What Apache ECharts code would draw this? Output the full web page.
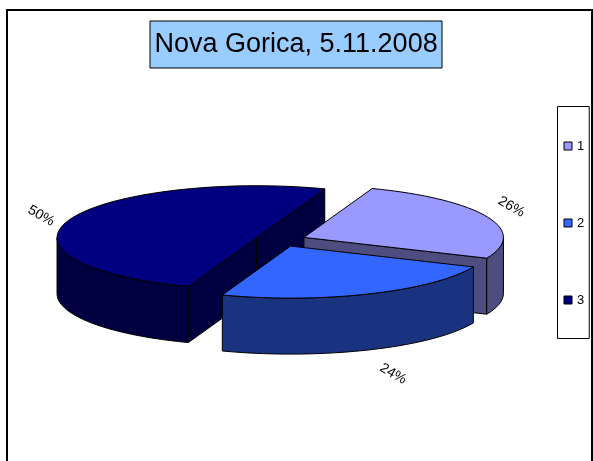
<!DOCTYPE html>
<html><head><meta charset="utf-8">
<style>html,body{margin:0;padding:0;background:#fff;overflow:hidden}#c{width:593px;height:461px}</style>
<script src="https://cdn.jsdelivr.net/npm/echarts@6/dist/echarts.min.js"></script>
</head><body><div id="c"></div>
<script>
// Data
const titleText = 'Nova Gorica, 5.11.2008';
const categories = ['1', '2', '3'];
const values = [26, 24, 50];
const topColors = ['#9999ff', '#3366ff', '#000080'];
const sideColors = ['#4d4d80', '#1a3380', '#000040'];

// Layout of the tilted pie
const CX = 280.5, CY = 240, RX = 199.5, RY = 52, DEPTH = 56, EXPLODE = 25.5, FIRST_ANGLE = 20;
const PAINT_ORDER = [1, 2, 0];
const LABEL_SHIFT = [[24, -10], [24, 24], [-28, -4]];
const LABEL_ROTATE = -30 * Math.PI / 180;

const total = values.reduce((a, b) => a + b, 0);
const rad = d => d * Math.PI / 180;

function renderSlice(params, api) {
  const i = params.seriesIndex;
  const value = api.value(0);
  const before = values.slice(0, i).reduce((a, b) => a + b, 0);
  const a0 = FIRST_ANGLE + before / total * 360;
  const a1 = a0 + value / total * 360;
  const mid = (a0 + a1) / 2;
  const ax = CX + EXPLODE * Math.sin(rad(mid));
  const ay = CY - EXPLODE * Math.cos(rad(mid)) * RY / RX;
  const pt = (deg, dz) => [ax + RX * Math.sin(rad(deg)), ay - RY * Math.cos(rad(deg)) + (dz || 0)];
  const arc = (from, to, dz) => {
    const n = Math.max(2, Math.ceil(Math.abs(to - from) / 3)), out = [];
    for (let k = 0; k <= n; k++) out.push(pt(from + (to - from) * k / n, dz));
    return out;
  };
  const sideStyle = { fill: sideColors[i], stroke: '#000', lineWidth: 1, lineJoin: 'round' };
  const children = [];
  const wall = deg => children.push({
    type: 'polygon',
    shape: { points: [[ax, ay], pt(deg), pt(deg, DEPTH), [ax, ay + DEPTH]] },
    style: sideStyle
  });
  // radial cut faces that look toward the viewer
  if (Math.cos(rad(a1 + 90)) < 0) wall(a1);
  if (Math.cos(rad(a0 - 90)) < 0) wall(a0);
  // outer rim: the part on the near side of the ellipse
  const f = Math.max(a0, 90), t = Math.min(a1, 270);
  if (t > f) {
    children.push({
      type: 'polygon',
      shape: { points: arc(f, t, 0).concat(arc(t, f, DEPTH)) },
      style: sideStyle
    });
  }
  // top face
  children.push({
    type: 'polygon',
    shape: { points: [[ax, ay]].concat(arc(a0, a1, 0)) },
    style: { fill: topColors[i], stroke: '#000', lineWidth: 1, lineJoin: 'round' }
  });
  // percent label
  const p = pt(mid);
  children.push({
    type: 'text',
    x: p[0] + LABEL_SHIFT[i][0],
    y: p[1] + LABEL_SHIFT[i][1] + (i === 1 ? DEPTH : 0),
    rotation: LABEL_ROTATE,
    style: {
      text: Math.round(value / total * 100) + '%',
      fill: '#000',
      font: '14px "Liberation Sans", Arial, sans-serif',
      align: 'center',
      verticalAlign: 'middle'
    }
  });
  return { type: 'group', children };
}

const chart = echarts.init(document.getElementById('c'), null, { renderer: 'canvas' });
chart.setOption({
  animation: false,
  backgroundColor: '#fff',
  title: {
    text: titleText,
    left: 149.5,
    top: 20.5,
    padding: [11, 5, 10, 5],
    backgroundColor: '#99ccff',
    borderColor: '#000',
    borderWidth: 1,
    textStyle: { fontFamily: '"Liberation Sans", Arial, sans-serif', fontSize: 27, fontWeight: 'normal', color: '#000' }
  },
  legend: {
    orient: 'vertical',
    left: 557.5,
    top: 106.5,
    padding: [33, 5, 32, 6],
    itemGap: 64,
    itemWidth: 8,
    itemHeight: 8,
    icon: 'rect',
    borderColor: '#000',
    borderWidth: 1,
    selectedMode: false,
    data: categories,
    itemStyle: { borderColor: '#000', borderWidth: 1 },
    textStyle: { fontFamily: '"Liberation Sans", Arial, sans-serif', fontSize: 13, color: '#000' }
  },
  graphic: [{
    type: 'rect',
    silent: true,
    z: -1,
    shape: { x: 7, y: 10, width: 585, height: 500 },
    style: { fill: 'none', stroke: '#000', lineWidth: 2 }
  }],
  series: categories.map((name, i) => ({
    type: 'custom',
    name,
    coordinateSystem: 'none',
    z: 2 + PAINT_ORDER[i],
    silent: true,
    itemStyle: { color: topColors[i] },
    renderItem: renderSlice,
    data: [[values[i]]]
  }))
});
</script></body></html>
